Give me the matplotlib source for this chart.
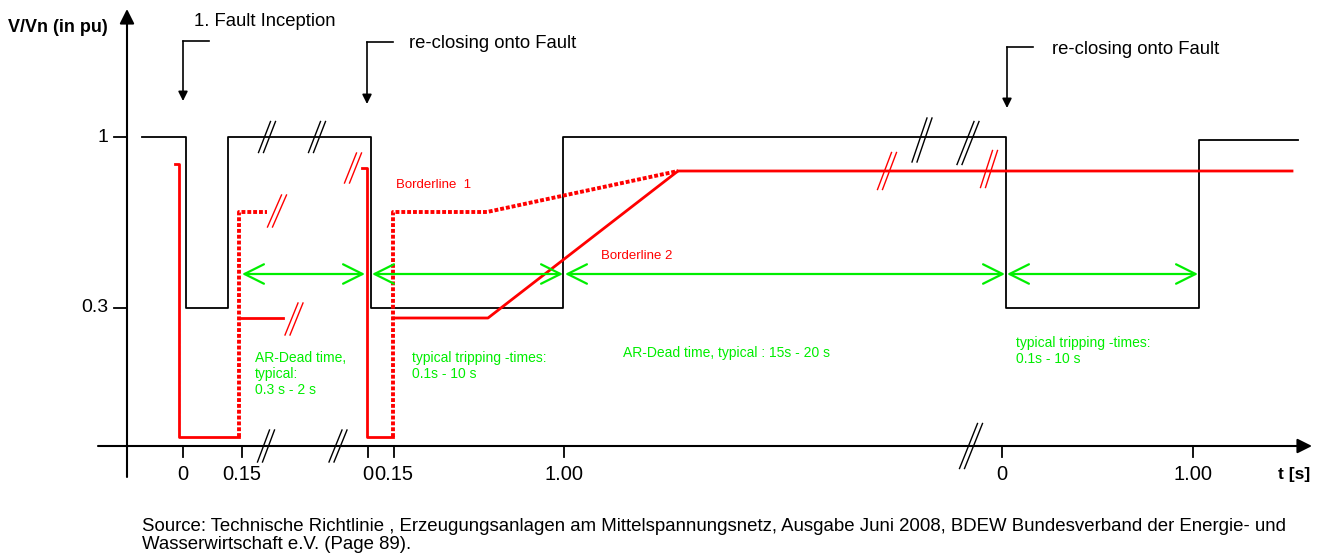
import matplotlib.pyplot as plt

plt.rcParams['font.family'] = ['Liberation Sans', 'DejaVu Sans']

W, H = 1337, 560
RED = '#ff0000'
GREEN = '#00ee00'

# layout of the schematic, in diagram units (origin top left)
axis_x0, axis_y0 = 127, 446
level_y = [137, 308]
level_labels = ['1', '0.3']

tick_x = [183, 242, 368, 394, 564, 1002, 1193]
tick_labels = ['0', '0.15', '0', '0.15', '1.00', '0', '1.00']

# voltage at the point of common coupling (black)
volt_x = [142, 186, 186, 228, 228, 371, 371, 563, 563, 1006, 1006, 1199, 1199, 1298]
volt_y = [137, 137, 308, 308, 137, 137, 308, 308, 137, 137, 308, 308, 140, 140]

# borderline pieces (red)
b1a_x = [175, 179, 179, 239]
b1a_y = [164, 164, 437, 437]
b1a_dot_x = [239, 239, 267]
b1a_dot_y = [437, 212, 212]
b2a_x = [239, 283]
b2a_y = [318, 318]
b1b_x = [362, 367, 367, 393]
b1b_y = [168, 168, 437, 437]
b1b_dot_x = [393, 393, 487, 678]
b1b_dot_y = [437, 212, 212, 171]
b2b_x = [393, 488, 678, 1292]
b2b_y = [318, 318, 171, 171]

# break marks: (x, y, width, height)
black_breaks = [(267, 137, 17, 31), (317, 137, 17, 31), (922, 140, 20, 44), (968, 143, 22, 43)]
red_breaks = [(353, 168, 17, 30), (277, 211, 19, 32), (294, 319, 18, 32),
              (887, 171, 19, 37), (989, 169, 17, 37)]
axis_breaks = [(266, 446, 17, 32), (338, 446, 18, 32), (971, 446, 23, 45)]

# green time spans
span_y = 274
spans = [(242, 365), (372, 563), (565, 1005), (1007, 1198)]

fig = plt.figure(figsize=(W / 100, H / 100), dpi=100)
ax = fig.add_axes([0, 0, 1, 1])
ax.set_xlim(0, W)
ax.set_ylim(H, 0)
ax.axis('off')

# axes with arrows
ax.annotate('', xy=(axis_x0, 9), xytext=(axis_x0, 477),
            arrowprops=dict(arrowstyle='-|>', color='k', lw=1.5, mutation_scale=22,
                            shrinkA=0, shrinkB=0))
ax.annotate('', xy=(1312, axis_y0), xytext=(98, axis_y0),
            arrowprops=dict(arrowstyle='-|>', color='k', lw=1.5, mutation_scale=22,
                            shrinkA=0, shrinkB=0))

for y, lab in zip(level_y, level_labels):
    ax.plot([114, axis_x0], [y, y], color='k', lw=1.3)
    ax.text(108, y, lab, ha='right', va='center', fontsize=14)

for x, lab in zip(tick_x, tick_labels):
    ax.plot([x, x], [axis_y0, 457], color='k', lw=1.3)
    ax.text(x, 474, lab, ha='center', va='center', fontsize=14.5)

ax.text(8, 27, 'V/Vn (in pu)', ha='left', va='center', fontsize=13, fontweight='bold')
ax.text(1310, 474, 't [s]', ha='right', va='center', fontsize=12.5, fontweight='bold')

ax.plot(volt_x, volt_y, color='k', lw=1.3)

ax.plot(b1a_x, b1a_y, color=RED, lw=2)
ax.plot(b1a_dot_x, b1a_dot_y, color=RED, lw=2.8, linestyle=(0, (1, 0.5)))
ax.plot(b2a_x, b2a_y, color=RED, lw=2)
ax.plot(b1b_x, b1b_y, color=RED, lw=2)
ax.plot(b1b_dot_x, b1b_dot_y, color=RED, lw=2.8, linestyle=(0, (1, 0.5)))
ax.plot(b2b_x, b2b_y, color=RED, lw=2)


def break_mark(x, y, w, h, color, lw):
    gap = 5
    sw = w - gap
    for dx in (-gap / 2, gap / 2):
        ax.plot([x + dx - sw / 2, x + dx + sw / 2], [y + h / 2, y - h / 2],
                color=color, lw=lw)


for x, y, w, h in black_breaks:
    break_mark(x, y, w, h, 'k', 1.0)
for x, y, w, h in red_breaks:
    break_mark(x, y, w, h, RED, 1.0)
for x, y, w, h in axis_breaks:
    break_mark(x, y, w, h, 'k', 1.0)

# event markers
events = [(183, 209, 41, 101, 194, 22, '1. Fault Inception'),
          (367, 393, 42, 104, 409, 43, 're-closing onto Fault'),
          (1007, 1033, 47, 108, 1052, 50, 're-closing onto Fault')]
for x, x_end, y, tip, tx, ty, lab in events:
    ax.plot([x, x_end], [y, y], color='k', lw=1.2)
    ax.annotate('', xy=(x, tip), xytext=(x, y),
                arrowprops=dict(arrowstyle='-|>', color='k', lw=1.2, mutation_scale=14,
                                shrinkA=0, shrinkB=0))
    ax.text(tx, ty, lab, ha='left', va='center', fontsize=13.3)

for x0, x1 in spans:
    ax.annotate('', xy=(x1, span_y), xytext=(x0, span_y),
                arrowprops=dict(arrowstyle='<->,head_length=0.7,head_width=0.35', color=GREEN,
                                lw=1.6, mutation_scale=20, shrinkA=0, shrinkB=0))

green_kw = dict(color=GREEN, fontsize=10, ha='left', va='top', linespacing=1.2)
ax.text(255, 351, 'AR-Dead time,\ntypical:\n0.3 s - 2 s', **green_kw)
ax.text(412, 351, 'typical tripping -times:\n0.1s - 10 s', **green_kw)
ax.text(623, 346, 'AR-Dead time, typical : 15s - 20 s', **green_kw)
ax.text(1016, 336, 'typical tripping -times:\n0.1s - 10 s', **green_kw)

ax.text(396, 185, 'Borderline  1', color=RED, fontsize=9.5, ha='left', va='center')
ax.text(601, 256, 'Borderline 2', color=RED, fontsize=9.5, ha='left', va='center')

ax.text(142, 518, 'Source: Technische Richtlinie , Erzeugungsanlagen am Mittelspannungsnetz, Ausgabe Juni 2008, '
        'BDEW Bundesverband der Energie- und\nWasserwirtschaft e.V. (Page 89).',
        ha='left', va='top', fontsize=13.4, linespacing=1.05)

fig.savefig('out.png', dpi=100)
